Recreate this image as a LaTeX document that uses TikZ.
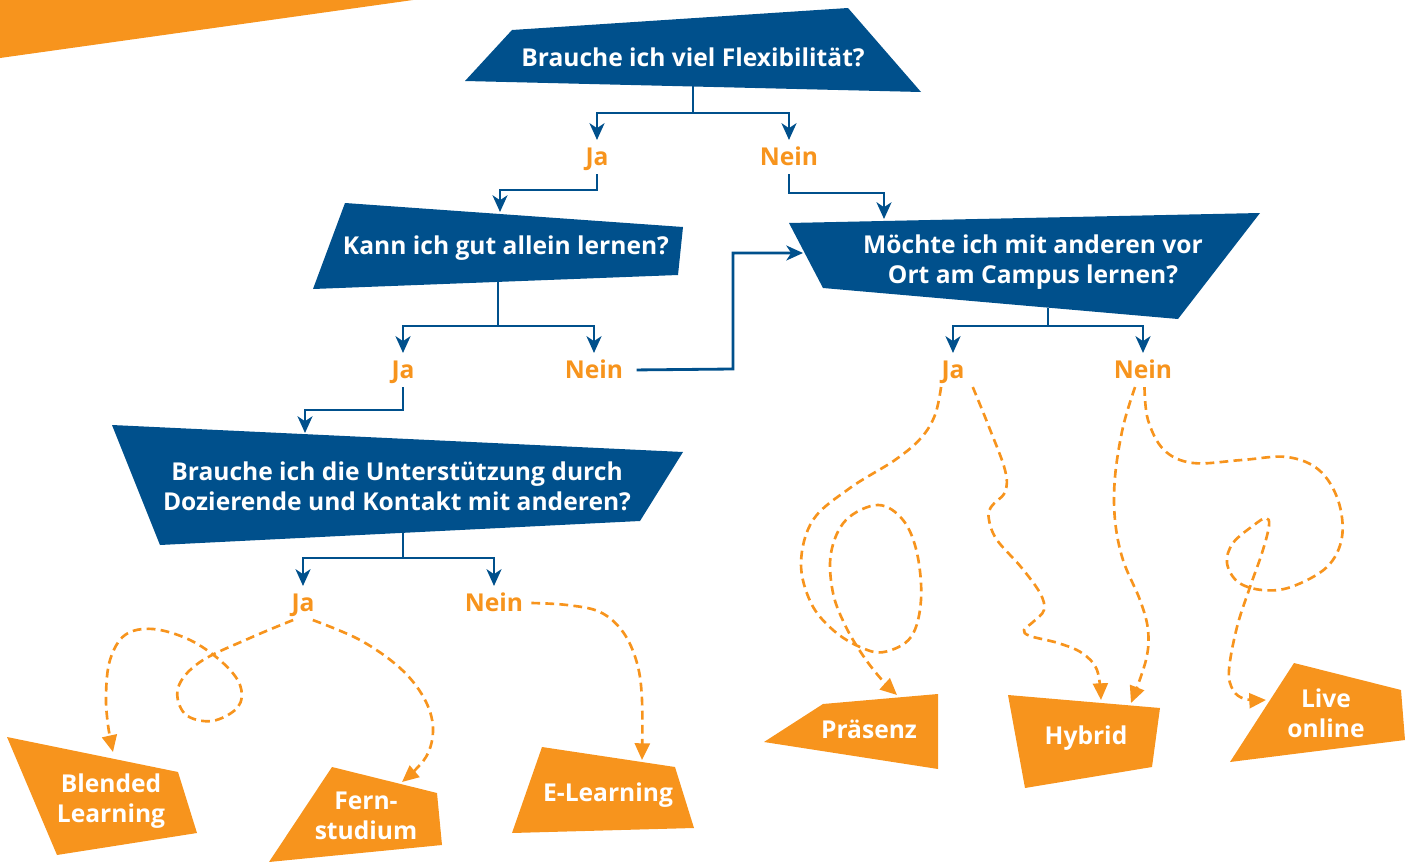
\documentclass[tikz,border=0pt]{standalone}
\usepackage{fontspec}
\setmainfont{Open Sans}
\usetikzlibrary{arrows.meta}

\definecolor{uniblue}{RGB}{0,80,140}
\definecolor{uniorange}{RGB}{247,148,29}

\begin{document}
\begin{tikzpicture}[x=0.02cm,y=-0.02cm,
    frage/.style={text=white,font=\bfseries\fontsize{14}{17}\selectfont,align=center},
    antwort/.style={text=uniorange,font=\bfseries\fontsize{14}{17}\selectfont,
      text height=10pt,text depth=0pt,inner sep=4.5pt},
    ergebnis/.style={text=white,font=\bfseries\fontsize{14}{17}\selectfont,align=center},
    pfeil/.style={uniblue,line width=1.6pt,-{Stealth[length=9.5pt,width=8.5pt,inset=2.8pt]}},
    weg/.style={uniorange,line width=1.5pt,dash pattern=on 5pt off 3pt,
      -{Triangle[length=9.5pt,width=8.5pt]}}]

    \useasboundingbox (0,0) rectangle (1411,862);

    % Banner top left
    \fill[uniorange] (0,0) -- (413,0) -- (0,58) -- cycle;

    % Questions (blue boxes)
    \fill[uniblue] (465,81) -- (512,30) -- (848,8) -- (921,92) -- cycle;
    \node[frage] (q1) at (693,57) {Brauche ich viel Flexibilität?};

    \fill[uniblue] (313,289) -- (345,203) -- (683,227) -- (678,275) -- cycle;
    \node[frage] (q2) at (506,248) {Kann ich gut allein lernen?};

    \fill[uniblue] (789,223) -- (1260,213) -- (1178,319) -- (823,288) -- cycle;
    \node[frage] (q3) at (1033,262) {Möchte ich mit anderen vor\\Ort am Campus lernen?};

    \fill[uniblue] (112,425) -- (683,452) -- (640,521) -- (160,545) -- cycle;
    \node[frage] (q4) at (397,486) {Brauche ich die Unterstützung durch\\Dozierende und Kontakt mit anderen?};

    % Entry and exit points on the boxes
    \coordinate (q1s) at (693,86);
    \coordinate (q2t) at (500,212);
    \coordinate (q2s) at (498,282);
    \coordinate (q3t) at (884,219);
    \coordinate (q3l) at (803,253);
    \coordinate (q3s) at (1048,308);
    \coordinate (q4t) at (305,433);
    \coordinate (q4s) at (403,533);

    % Answers
    \node[antwort] (ja1)   at (597,157)  {Ja};
    \node[antwort] (nein1) at (789,157)  {Nein};
    \node[antwort] (ja2)   at (403,370)  {Ja};
    \node[antwort] (nein2) at (594,370)  {Nein};
    \node[antwort] (ja3)   at (303,603)  {Ja};
    \node[antwort] (nein3) at (494,603)  {Nein};
    \node[antwort] (ja4)   at (953,370)  {Ja};
    \node[antwort] (nein4) at (1143,370) {Nein};

    % Blue connectors
    \draw[pfeil] (q1s) -- (693,113) -| (ja1.north);
    \draw[pfeil] (q1s) -- (693,113) -| (nein1.north);
    \draw[pfeil] (ja1.south) -- (597,190) -| (q2t);
    \draw[pfeil] (nein1.south) -- (789,193) -| (q3t);
    \draw[pfeil] (q2s) -- (498,326) -| (ja2.north);
    \draw[pfeil] (q2s) -- (498,326) -| (nein2.north);
    \draw[pfeil,shorten <=3pt] (nein2.east) -- (733,369) |- (q3l);
    \draw[pfeil] (ja2.south) -- (403,410) -| (q4t);
    \draw[pfeil] (q4s) -- (403,558) -| (ja3.north);
    \draw[pfeil] (q4s) -- (403,558) -| (nein3.north);
    \draw[pfeil] (q3s) -- (1048,326) -| (ja4.north);
    \draw[pfeil] (q3s) -- (1048,326) -| (nein4.north);

    % Results (orange boxes)
    \fill[uniorange] (7,737) -- (178,772) -- (197,833) -- (57,855) -- cycle;
    \node[ergebnis] (bl) at (111,801) {Blended\\Learning};

    \fill[uniorange] (332,767) -- (437,793) -- (442,845) -- (269,862) -- cycle;
    \node[ergebnis] (fs) at (366,816) {Fern-\\studium};

    \fill[uniorange] (542,747) -- (675,767) -- (694,828) -- (512,833) -- cycle;
    \node[ergebnis] (el) at (608,795) {E-Learning};

    \fill[uniorange] (764,742) -- (823,704) -- (938,694) -- (938,769) -- cycle;
    \node[ergebnis] (pr) at (869,729) {Präsenz};

    \fill[uniorange] (1008,695) -- (1160,708) -- (1152,767) -- (1025,788) -- cycle;
    \node[ergebnis] (hy) at (1086,738) {Hybrid};

    \fill[uniorange] (1294,663) -- (1401,690) -- (1405,740) -- (1230,762) -- cycle;
    \node[ergebnis] (lo) at (1326,713) {Live\\online};

    % Arrival points on the results
    \coordinate (blT) at (113,752);
    \coordinate (fsT) at (402,782);
    \coordinate (elT) at (642,760);
    \coordinate (prT) at (897,695);
    \coordinate (hyT1) at (1101,700);
    \coordinate (hyT2) at (1131,703);
    \coordinate (loL) at (1266,700);

    % Dashed wandering paths
    \draw[weg] plot[smooth,tension=0.6] coordinates {(ja3.240) (250,638) (200,662) (178,688)
      (185,714) (212,721) (238,707) (240,685) (222,662) (190,640) (153,629) (125,635)
      (110,660) (106,695) (108,725) (blT)};
    \draw[weg] plot[smooth,tension=0.6] coordinates {(ja3.300) (360,640) (400,668) (424,698)
      (433,728) (426,757) (fsT)};
    \draw[weg] plot[smooth,tension=0.6] coordinates {(nein3.east) (567,605) (600,612)
      (623,632) (637,663) (642,700) (elT)};
    \draw[weg] plot[smooth,tension=0.6] coordinates {(ja4.235) (935,415) (921,438) (895,460)
      (850,488) (813,520) (801,563) (811,603) (833,630) (860,647) (884,652) (911,637)
      (921,600) (917,553) (903,520) (878,505) (846,520) (831,553) (833,593) (846,627)
      (864,657) (882,680) (prT)};
    \draw[weg] plot[smooth,tension=0.6] coordinates {(ja4.south east) (989,427) (1005,470)
      (1005,492) (991,507) (989,520) (997,540) (1021,567) (1040,593) (1044,610) (1033,622)
      (1024,630) (1030,636) (1058,643) (1082,653) (1097,670) (hyT1)};
    \draw[weg] plot[smooth,tension=0.6] coordinates {(nein4.245) (1123,427) (1115,477)
      (1115,520) (1123,560) (1140,600) (1148,630) (1146,660) (hyT2)};
    \draw[weg] plot[smooth,tension=0.6] coordinates {(nein4.275) (1148,420) (1164,450)
      (1193,463) (1242,460) (1287,457) (1319,470) (1338,500) (1342,537) (1327,567)
      (1291,587) (1262,590) (1238,582) (1227,563) (1233,543) (1254,525) (1266,518)
      (1269,526) (1262,553) (1250,587) (1237,627) (1229,670) (1233,690) (1245,699) (loL)};

\end{tikzpicture}
\end{document}
